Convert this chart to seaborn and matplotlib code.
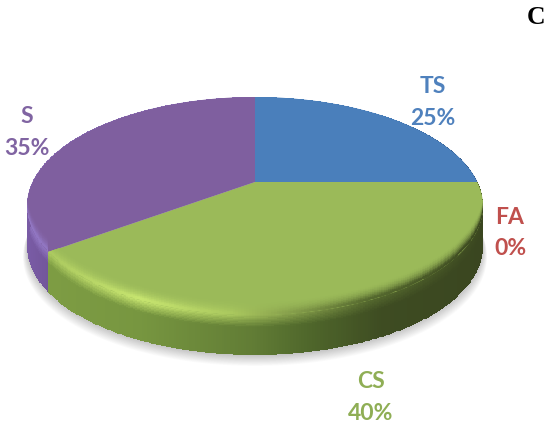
from __future__ import annotations

import matplotlib

matplotlib.use("Agg")

import matplotlib.pyplot as plt
import numpy as np
import seaborn as sns

# slices run clockwise from 12 o'clock
labels = ["TS", "FA", "CS", "S"]
shares = [25, 0, 40, 35]
slice_colors = ["#4a7fbb", "#c0504d", "#9bba59", "#7f5f9f"]
label_colors = ["#4f81bd", "#c0504d", "#8fae55", "#8064a2"]
panel_letter = "C"

label_pos = {"TS": (433, 102.5), "FA": (510, 233), "CS": (371, 397.5), "S": (27, 132.5)}

# screen placement of the tilted disc, in pixels
APEX_X, APEX_Y = 255, 182
SCALE_X, SCALE_Y, TILT = 222.4, 103.7, 0.22
DEPTH = 40
BEVEL = 15

# colours along the screen x position for the front rim
RIM_STOPS = [0.0, 0.12, 0.25, 0.45, 0.55, 0.75, 1.0]
WALL_STOPS = [0.0, 0.25, 0.5, 0.62, 0.78, 1.0]


def project(theta, radius=1.0):
    """Map a clockwise angle on the disc to image pixels, with perspective."""
    x = radius * np.sin(theta)
    y = radius * np.cos(theta)
    denom = 1 + TILT * y
    return APEX_X + SCALE_X * x / denom, APEX_Y - SCALE_Y * y / denom


def ramp(u, stops, colors):
    rgb = np.array([matplotlib.colors.to_rgb(c) for c in colors])
    return np.stack([np.interp(u, stops, rgb[:, i]) for i in range(3)], axis=-1)


def screen_u(px):
    return np.clip((px - 26) / 456, 0, 1)


def wall_color(name, px):
    u = screen_u(px)
    if name == "S":
        return ramp(u, [0, 0.1, 1], ["#7a5ca6", "#6a4f8e", "#5a4378"])
    if name == "CS":
        return ramp(u, WALL_STOPS, ["#7f9e44", "#779640", "#617c35", "#4f672b", "#3e4c22", "#3a4620"])
    return ramp(u, [0, 1], ["#3a5f8c", "#2c4a70"])


def rim_color(name, px):
    u = screen_u(px)
    if name == "S":
        return ramp(u, [0, 0.1, 1], ["#9277c4", "#8f74bd", "#7f5f9f"])
    if name == "CS":
        return ramp(u, RIM_STOPS, ["#a4c25c", "#b4d264", "#c6e46f", "#aac85e", "#8fa950", "#566a2f", "#3c4920"])
    return ramp(u, [0, 0.8, 1], ["#4a7fbb", "#4a7fbb", "#30507a"])


sns.set_theme(style="white")
fig, ax = plt.subplots(figsize=(5.5, 4.26), dpi=100)
ax.set_position([0, 0, 1, 1])
ax.set_xlim(0, 550)
ax.set_ylim(426, 0)
ax.axis("off")

edges = np.cumsum([0] + shares) / sum(shares) * 2 * np.pi
palette = dict(zip(labels, sns.color_palette(slice_colors)))

# soft shadow under the disc
ring = np.linspace(0, 2 * np.pi, 360)
for grow in np.linspace(0, 1, 14):
    sx, sy = project(ring, 1.0)
    sx = 254 + (sx - 254) * (1.0 + 0.018 * grow)
    sy = sy + DEPTH + 1 + 10 * grow
    ax.fill(sx, sy, color="black", alpha=0.014, lw=0, zorder=1)

# side walls first, faces cover the back part
for name, start, stop in zip(labels, edges[:-1], edges[1:]):
    if stop - start == 0:
        continue
    theta = np.linspace(start, stop, 260)
    px, py = project(theta)
    drop = np.linspace(0, DEPTH, 30)
    grid_x = np.tile(px, (len(drop), 1))
    grid_y = py[None, :] + drop[:, None]
    cell_x = (px[:-1] + px[1:]) / 2
    base = wall_color(name, cell_x)
    rim = rim_color(name, cell_x)
    fade = np.clip(((drop[:-1] + drop[1:]) / 2) / 12, 0, 1)[:, None, None]
    cells = rim[None, :, :] * (1 - fade) + base[None, :, :] * fade
    ax.pcolormesh(grid_x, grid_y, cells, shading="flat", antialiased=False, zorder=2)

for name, start, stop in zip(labels, edges[:-1], edges[1:]):
    if stop - start == 0:
        continue
    theta = np.linspace(start, stop, 260)
    px, py = project(theta)
    face_patch = ax.fill(
        np.r_[APEX_X, px],
        np.r_[APEX_Y, py],
        color=palette[name],
        lw=0,
        zorder=3,
    )[0]

    # bevel on the face: shifted up from the rim, clipped to the slice
    lift = np.linspace(BEVEL, 0, 22)
    grid_x = np.tile(px, (len(lift), 1))
    grid_y = py[None, :] - lift[:, None]
    cell_x = (px[:-1] + px[1:]) / 2
    weight = (1 - np.clip(((lift[:-1] + lift[1:]) / 2 - 2) / (BEVEL - 2), 0, 1))[:, None, None] ** 2
    face = np.array(palette[name])[None, None, :]
    cells = face * (1 - weight) + rim_color(name, cell_x)[None, :, :] * weight
    mesh = ax.pcolormesh(grid_x, grid_y, cells, shading="flat", antialiased=False, zorder=4)
    mesh.set_clip_path(face_patch)

for name, share, color in zip(labels, shares, label_colors):
    x, y = label_pos[name]
    ax.text(
        x,
        y,
        f"{name}\n{share}%",
        color=color,
        family="Lato",
        fontweight="bold",
        fontsize=16.5,
        ha="center",
        va="center",
        linespacing=1.62,
        zorder=5,
    )

ax.text(536, 17, panel_letter, family="Liberation Serif", fontweight="bold", fontsize=18.5, color="black", ha="center", va="center")

fig.savefig("out.png", dpi=100)
